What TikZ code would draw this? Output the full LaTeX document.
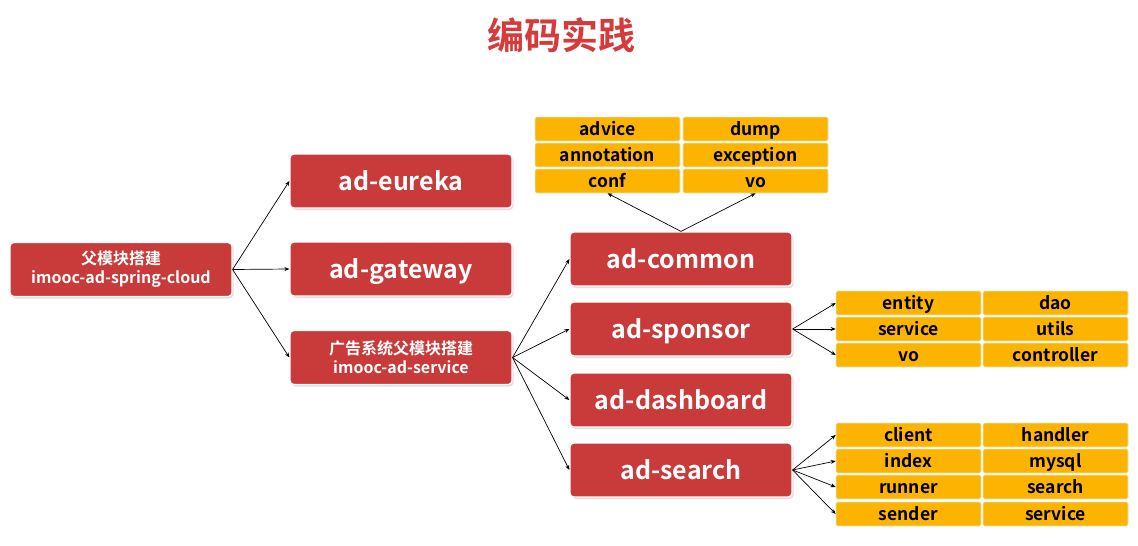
\documentclass[tikz,border=0pt]{standalone}
\usepackage{fontspec}
\setmainfont{Noto Sans CJK SC}[BoldFont={Noto Sans CJK SC Bold}]
\usetikzlibrary{arrows.meta,positioning,shadows}
\definecolor{boxred}{RGB}{201,58,58}
\definecolor{titlered}{RGB}{214,58,58}
\definecolor{cellorange}{RGB}{253,180,0}
\definecolor{celledge}{RGB}{214,236,200}

\begin{document}
\begin{tikzpicture}[x=1pt,y=-1pt]
\tikzset{
  modnode/.style={rectangle,rounded corners=4pt,fill=boxred,draw=white,line width=1.2pt,
    minimum width=222pt,minimum height=54pt,inner sep=1pt,text=white,font=\bfseries\fontsize{25}{27}\selectfont,
    text height=19pt,text depth=0pt,
    drop shadow={shadow xshift=1.5pt,shadow yshift=-2pt,opacity=0.25}},
  twoline/.style={modnode,align=center,font=\bfseries\fontsize{16}{19}\selectfont,text height=,text depth=},
  pkgcell/.style={rectangle,rounded corners=1.5pt,fill=cellorange,draw=celledge,line width=0.6pt,
    minimum width=145pt,minimum height=24pt,inner sep=0pt,text=black,font=\bfseries\fontsize{17.5}{19}\selectfont,
    text height=14pt,text depth=1pt},
  directed/.style={draw=black,line width=0.7pt,-{Stealth[length=5pt,width=4pt]}}
}
\useasboundingbox (0,0) rectangle (1138,546);
\node[text=titlered,font=\bfseries\fontsize{37}{40}\selectfont] (n_title) at (561,35) {编码实践};
% modules
\node[twoline] (n_root) at (121,269.5) {父模块搭建\\imooc-ad-spring-cloud};
\node[modnode] (n_eureka) at (401,181) {ad-eureka};
\node[modnode] (n_gateway) at (401,269) {ad-gateway};
\node[twoline] (n_service) at (401,357.5) {广告系统父模块搭建\\imooc-ad-service};
\node[modnode] (n_common) at (681,259) {ad-common};
\node[modnode] (n_sponsor) at (681,329) {ad-sponsor};
\node[modnode] (n_dashboard) at (681,400) {ad-dashboard};
\node[modnode] (n_search) at (681,470) {ad-search};
% packages of ad-common
\node[pkgcell] (c_advice) at (607.5,129) {advice};
\node[pkgcell] (c_annotation) at (607.5,155) {annotation};
\node[pkgcell] (c_conf) at (607.5,181) {conf};
\node[pkgcell] (c_dump) at (755.5,129) {dump};
\node[pkgcell] (c_exception) at (755.5,155) {exception};
\node[pkgcell] (c_vo) at (755.5,181) {vo};
% packages of ad-sponsor
\node[pkgcell] (s_entity) at (908.5,303) {entity};
\node[pkgcell] (s_service) at (908.5,329) {service};
\node[pkgcell] (s_vo) at (908.5,355) {vo};
\node[pkgcell] (s_dao) at (1055.5,303) {dao};
\node[pkgcell] (s_utils) at (1055.5,329) {utils};
\node[pkgcell] (s_controller) at (1055.5,355) {controller};
% packages of ad-search
\node[pkgcell] (r_client) at (908.5,435) {client};
\node[pkgcell] (r_index) at (908.5,461) {index};
\node[pkgcell] (r_runner) at (908.5,487) {runner};
\node[pkgcell] (r_sender) at (908.5,514) {sender};
\node[pkgcell] (r_handler) at (1055.5,435) {handler};
\node[pkgcell] (r_mysql) at (1055.5,461) {mysql};
\node[pkgcell] (r_search) at (1055.5,487) {search};
\node[pkgcell] (r_service) at (1055.5,514) {service};
% arrows
\draw[directed] (n_root.east) -- (n_eureka.west);
\draw[directed] (n_root.east) -- (n_gateway.west);
\draw[directed] (n_root.east) -- (n_service.west);
\draw[directed] (n_service.east) -- (n_common.west);
\draw[directed] (n_service.east) -- (n_sponsor.west);
\draw[directed] (n_service.east) -- (n_dashboard.west);
\draw[directed] (n_service.east) -- (n_search.west);
\draw[directed] (n_common.north) -- (c_conf.south);
\draw[directed] (n_common.north) -- (c_vo.south);
\draw[directed] (n_sponsor.east) -- (s_entity.west);
\draw[directed] (n_sponsor.east) -- (s_service.west);
\draw[directed] (n_sponsor.east) -- (s_vo.west);
\draw[directed] (n_search.east) -- (r_client.west);
\draw[directed] (n_search.east) -- (r_index.west);
\draw[directed] (n_search.east) -- (r_runner.west);
\draw[directed] (n_search.east) -- (r_sender.west);
\end{tikzpicture}
\end{document}
